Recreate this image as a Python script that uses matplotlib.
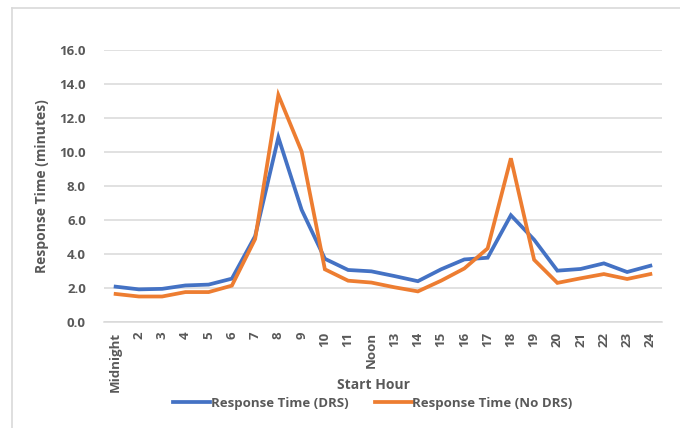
import matplotlib
matplotlib.use("Agg")
import matplotlib.pyplot as plt
from matplotlib.lines import Line2D

hours = ["Midnight", "2", "3", "4", "5", "6", "7", "8", "9", "10", "11", "Noon",
         "13", "14", "15", "16", "17", "18", "19", "20", "21", "22", "23", "24"]
drs = [2.08, 1.92, 1.95, 2.15, 2.2, 2.55, 5.05, 10.86, 6.6, 3.72, 3.06, 2.98,
       2.7, 2.4, 3.1, 3.68, 3.78, 6.28, 4.84, 3.02, 3.12, 3.45, 2.94, 3.31]
no_drs = [1.65, 1.5, 1.5, 1.76, 1.76, 2.14, 4.88, 13.35, 10.03, 3.1, 2.43, 2.32,
          2.04, 1.8, 2.43, 3.15, 4.33, 9.63, 3.66, 2.3, 2.57, 2.82, 2.53, 2.82]
yticks = [0, 2, 4, 6, 8, 10, 12, 14, 16]

W, H = 680, 428
fig = plt.figure(figsize=(W / 100, H / 100), dpi=100)
fig.patch.set_facecolor("white")

FONT = "Open Sans"
GRAY = "#595959"
WT = "bold"

# outer chart frame (partially visible)
fig.add_artist(Line2D([12 / W, 12 / W], [0, 1 - 8 / H], transform=fig.transFigure,
                      color="#D9D9D9", lw=1.2))
fig.add_artist(Line2D([12 / W, 1], [1 - 8 / H, 1 - 8 / H], transform=fig.transFigure,
                      color="#D9D9D9", lw=1.2))

left, right, top, bottom = 104, 662, 50, 322
ax = fig.add_axes([left / W, 1 - bottom / H, (right - left) / W, (bottom - top) / H])

x = list(range(len(hours)))
l1, = ax.plot(x, drs, color="#4472C4", lw=2.7, solid_joinstyle="miter",
              label="Response Time (DRS)")
l2, = ax.plot(x, no_drs, color="#ED7D31", lw=2.7, solid_joinstyle="miter",
              label="Response Time (No DRS)")

ax.set_xlim(-0.5, len(hours) - 0.5)
ax.set_ylim(0, 16)
ax.set_yticks(yticks)
ax.set_yticklabels([f"{v:.1f}" for v in yticks], fontsize=9.5, color=GRAY,
                   fontweight=WT, family=FONT)
ax.set_xticks(x)
ax.set_xticklabels(hours, rotation=90, fontsize=9.5, color=GRAY,
                   fontweight=WT, family=FONT, va="top", ha="center")
ax.tick_params(axis="y", length=0, pad=13)
ax.tick_params(axis="x", length=0, pad=7)
ax.grid(axis="y", color="#D9D9D9", lw=1.1)
ax.set_axisbelow(True)
for s in ["top", "right", "left"]:
    ax.spines[s].set_visible(False)
ax.spines["bottom"].set_color("#D9D9D9")
ax.spines["bottom"].set_linewidth(1.1)
ax.set_facecolor("none")

fig.text(42 / W, 1 - 186 / H, "Response Time (minutes)", rotation=90,
         ha="center", va="center", fontsize=10, color=GRAY,
         fontweight=WT, family=FONT)
fig.text(373.5 / W, 1 - 385 / H, "Start Hour", ha="center", va="center",
         fontsize=10, color=GRAY, fontweight=WT, family=FONT)

leg = fig.legend(handles=[l1, l2], loc="center", bbox_to_anchor=(373 / W, 1 - 403 / H),
                 ncol=2, frameon=False, handlelength=2.8, handletextpad=0.05,
                 columnspacing=2.0, prop={"family": FONT, "size": 9.5, "weight": WT})
for t in leg.get_texts():
    t.set_color(GRAY)

fig.savefig("out.png", dpi=100, facecolor="white")
